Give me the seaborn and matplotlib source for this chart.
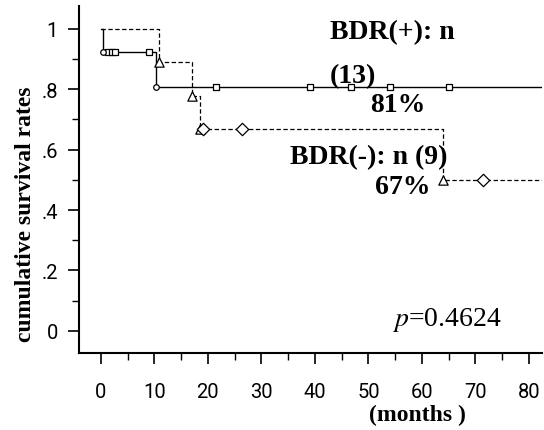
import matplotlib
matplotlib.use("Agg")
import matplotlib.pyplot as plt
import seaborn as sns
import pandas as pd
from matplotlib.ticker import MultipleLocator

# ---- data ----
pos_step_t = [0, 0.4, 10.3, 85]
pos_step_s = [1.0, 0.923, 0.808, 0.808]
pos_event_t = [0.4, 10.3]
pos_event_s = [0.923, 0.808]
pos_cens_t = [1.3, 2.0, 2.6, 9.0, 21.5, 39.0, 46.7, 54.0, 65.0]
pos_cens_s = [0.923, 0.923, 0.923, 0.923, 0.808, 0.808, 0.808, 0.808, 0.808]

neg_step_t = [0, 10.8, 17.0, 18.5, 64.0, 85]
neg_step_s = [1.0, 0.889, 0.778, 0.667, 0.5, 0.5]
neg_event_t = [10.8, 17.0, 18.5, 64.0]
neg_event_s = [0.889, 0.778, 0.667, 0.5]
neg_cens_t = [19.0, 26.4, 71.4]
neg_cens_s = [0.667, 0.667, 0.5]

x_ticks = [0, 10, 20, 30, 40, 50, 60, 70, 80]
y_ticks = [0, 0.2, 0.4, 0.6, 0.8, 1.0]
y_tick_labels = ["0", ".2", ".4", ".6", ".8", "1"]

sns.set_style("ticks")
plt.rcParams['font.family'] = ['Roboto', 'DejaVu Sans']
plt.rcParams['text.color'] = 'black'
plt.rcParams['mathtext.fontset'] = 'stix'

fig = plt.figure(figsize=(5.44, 4.31), dpi=100)
ax = fig.add_axes([0.145, 0.179, 0.851, 0.805])

pos_df = pd.DataFrame({"t": pos_step_t, "s": pos_step_s})
neg_df = pd.DataFrame({"t": neg_step_t, "s": neg_step_s})

sns.lineplot(data=pos_df, x="t", y="s", drawstyle="steps-post", estimator=None,
             color="black", linewidth=1.0, ax=ax)
sns.lineplot(data=neg_df, x="t", y="s", drawstyle="steps-post", estimator=None,
             color="black", linewidth=0.9, linestyle=(0, (3.5, 2)), ax=ax)

sns.scatterplot(x=pos_cens_t, y=pos_cens_s, marker="s", s=20, facecolor="white",
                edgecolor="black", linewidth=0.9, ax=ax, zorder=3)
sns.scatterplot(x=pos_event_t, y=pos_event_s, marker="o", s=16, facecolor="white",
                edgecolor="black", linewidth=0.9, ax=ax, zorder=3)
sns.scatterplot(x=neg_event_t, y=neg_event_s, marker="^", s=45, facecolor="white",
                edgecolor="black", linewidth=0.9, ax=ax, zorder=3)
sns.scatterplot(x=neg_cens_t, y=neg_cens_s, marker="D", s=40, facecolor="white",
                edgecolor="black", linewidth=0.9, ax=ax, zorder=4)

ax.set_xlim(-4.1, 82.4)
ax.set_ylim(-0.073, 1.076)
ax.set_xticks(x_ticks)
ax.set_yticks(y_ticks)
ax.set_yticklabels(y_tick_labels)
ax.xaxis.set_minor_locator(MultipleLocator(5))
ax.yaxis.set_minor_locator(MultipleLocator(0.1))
ax.tick_params(axis="both", which="major", length=8, width=1.2, labelsize=14.5,
               color="black", labelcolor="black")
ax.tick_params(axis="x", which="major", pad=13)
ax.tick_params(axis="y", which="major", pad=7)
ax.tick_params(axis="both", which="minor", length=5, width=1.0, color="black")
for side in ["top", "right"]:
    ax.spines[side].set_visible(False)
for side in ["left", "bottom"]:
    ax.spines[side].set_color("black")
    ax.spines[side].set_linewidth(1.5)

ax.set_xlabel("")
ax.set_ylabel("")

serif = ['Liberation Serif', 'DejaVu Serif']
fig.text(0.047, 0.503, "cumulative survival rates", rotation=90, ha="center", va="center",
         fontsize=17, fontweight="bold", family=serif)
fig.text(0.768, 0.036, "(months )", ha="center", va="center", fontsize=17,
         fontweight="bold", family=serif)

fig.text(0.607, 1 - 33 / 431, "BDR(+): n", ha="left", va="center", fontsize=20,
         fontweight="bold", family=serif)
fig.text(0.607, 1 - 77 / 431, "(13)", ha="left", va="center", fontsize=20,
         fontweight="bold", family=serif)
fig.text(0.68, 1 - 106 / 431, "81%", ha="left", va="center", fontsize=20,
         fontweight="bold", family=serif)
fig.text(0.533, 1 - 158 / 431, "BDR(-): n (9)", ha="left", va="center", fontsize=20,
         fontweight="bold", family=serif)
fig.text(0.69, 1 - 188 / 431, "67%", ha="left", va="center", fontsize=20,
         fontweight="bold", family=serif)
fig.text(0.72, 1 - 320 / 431, r"$\it{p}$=0.4624", ha="left", va="center", fontsize=20,
         family=serif)

fig.savefig("out.png", dpi=100)
